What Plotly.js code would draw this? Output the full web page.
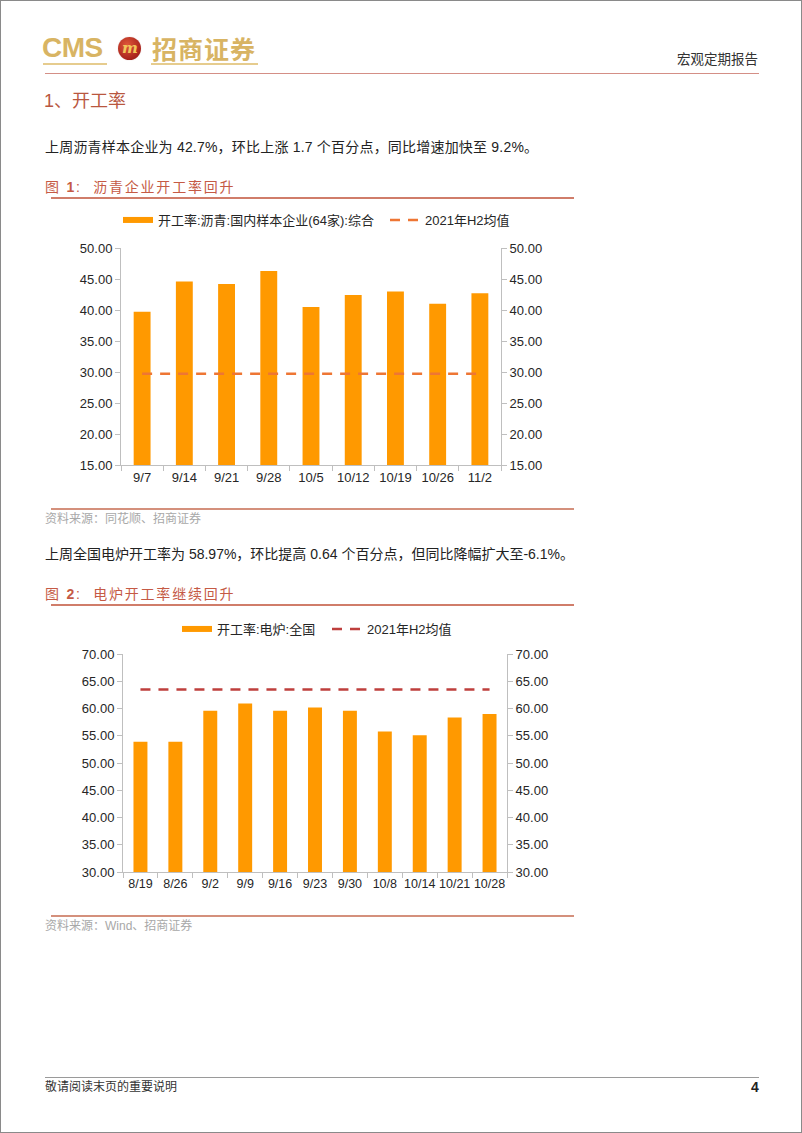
<!DOCTYPE html>
<html>
<head>
<meta charset="utf-8">
<script src="https://cdn.plot.ly/plotly-3.0.1.min.js"></script>
<style>
  html, body { margin:0; padding:0; background:#fff; }
  #page { position:relative; width:802px; height:1133px; box-sizing:border-box; border:1px solid #8a8a8a; overflow:hidden;
          font-family:"Liberation Sans", Arial, "Noto Sans CJK SC", sans-serif; color:#222; }
  .abs { position:absolute; white-space:nowrap; }
  .rule { position:absolute; }
  .chart { position:absolute; }
</style>
</head>
<body>
<div id="page">
  <!-- header -->
  <div class="abs" style="left:41px; top:30px; font-size:28px; line-height:34px; font-weight:bold; color:#D8B463; letter-spacing:-0.5px;">CMS</div>
  <div class="abs" style="left:117px; top:36px; width:23px; height:23px; border-radius:50%; background:radial-gradient(circle at 40% 35%, #E0583A, #A8231C 70%, #7A1510); box-shadow:0 0 1px #caa;"></div>
  <div class="abs" style="left:119px; top:35px; width:20px; font-size:15px; line-height:24px; font-weight:bold; font-style:italic; color:#F2C65A; text-align:center; font-family:'DejaVu Serif', serif;">m</div>
  <div class="abs" style="left:151px; top:31px; font-size:25px; line-height:32px; font-weight:bold; color:#D8B463; font-family:'Noto Sans CJK SC', sans-serif; letter-spacing:1px;">招商证券</div>
  <div class="rule" style="left:42px; top:62px; width:64px; height:2px; background:#E6CC8E;"></div>
  <div class="rule" style="left:150px; top:62px; width:107px; height:2px; background:#E6CC8E;"></div>
  <div class="abs" style="left:676px; top:48px; font-size:13.5px; line-height:18px; color:#333; font-family:'Noto Sans CJK SC', sans-serif;">宏观定期报告</div>
  <div class="rule" style="left:44px; top:72px; width:714px; height:1px; background:#D48F86;"></div>

  <div class="abs" style="left:43px; top:88px; font-size:18px; line-height:24px; color:#B9573F;">1、开工率</div>

  <div class="abs" style="left:44px; top:137px; font-size:14px; line-height:18px; color:#222; letter-spacing:0.2px;">上周沥青样本企业为 42.7%，环比上涨 1.7 个百分点，同比增速加快至 9.2%。</div>

  <div class="abs" style="left:44px; top:177px; font-size:14px; line-height:18px; color:#C55A45; letter-spacing:1.8px;">图 <b>1</b>:&nbsp;&nbsp;沥青企业开工率回升</div>
  <div class="rule" style="left:50px; top:196px; width:523px; height:1.5px; background:#D07D6A;"></div>

  <div id="chart1" class="chart" style="left:0px; top:200px; width:600px; height:300px;"></div>

  <div class="rule" style="left:50px; top:507px; width:523px; height:2px; background:#D4907C;"></div>
  <div class="abs" style="left:44px; top:510px; font-size:12px; line-height:16px; color:#A8A8A8;">资料来源：同花顺、招商证券</div>

  <div class="abs" style="left:44px; top:544px; font-size:14px; line-height:18px; color:#222;">上周全国电炉开工率为 58.97%，环比提高 0.64 个百分点，但同比降幅扩大至-6.1%。</div>

  <div class="abs" style="left:44px; top:584px; font-size:14px; line-height:18px; color:#C55A45; letter-spacing:1.8px;">图 <b>2</b>:&nbsp;&nbsp;电炉开工率继续回升</div>
  <div class="rule" style="left:50px; top:603px; width:523px; height:1.5px; background:#D07D6A;"></div>

  <div id="chart2" class="chart" style="left:0px; top:600px; width:600px; height:310px;"></div>

  <div class="rule" style="left:50px; top:914px; width:523px; height:2px; background:#D4907C;"></div>
  <div class="abs" style="left:44px; top:917px; font-size:12px; line-height:16px; color:#A8A8A8;">资料来源：Wind、招商证券</div>

  <!-- footer -->
  <div class="rule" style="left:44px; top:1076px; width:714px; height:1px; background:#9a9a9a;"></div>
  <div class="abs" style="left:44px; top:1078px; font-size:12px; line-height:16px; color:#333;">敬请阅读末页的重要说明</div>
  <div class="abs" style="left:750px; top:1077px; font-size:14px; line-height:18px; font-weight:bold; color:#222;">4</div>
</div>

<script>
// ---------- data: chart 1 ----------
const cats1 = ['9/7','9/14','9/21','9/28','10/5','10/12','10/19','10/26','11/2'];
const asphaltRate = [39.7, 44.6, 44.2, 46.3, 40.5, 42.4, 43.0, 41.0, 42.7];
const asphaltAvgH2 = [29.7, 29.7, 29.7, 29.7, 29.7, 29.7, 29.7, 29.7, 29.7];
const name1a = '开工率:沥青:国内样本企业(64家):综合';
const name1b = '2021年H2均值';
const ticks1 = [15, 20, 25, 30, 35, 40, 45, 50];

// ---------- data: chart 2 ----------
const cats2 = ['8/19','8/26','9/2','9/9','9/16','9/23','9/30','10/8','10/14','10/21','10/28'];
const eafRate = [53.9, 53.9, 59.6, 60.9, 59.6, 60.2, 59.6, 55.8, 55.1, 58.33, 58.97];
const eafAvgH2 = [63.5, 63.5, 63.5, 63.5, 63.5, 63.5, 63.5, 63.5, 63.5, 63.5, 63.5];
const name2a = '开工率:电炉:全国';
const name2b = '2021年H2均值';
const ticks2 = [30, 35, 40, 45, 50, 55, 60, 65, 70];

const FONT = 'Liberation Sans, Arial, Noto Sans CJK SC, sans-serif';
const BAR = '#FF9900';
const AXC = '#BFBFBF';
const TXT = '#262626';

function yAxis(range, ticks, side) {
  const a = {
    range: range, tickvals: ticks, tickformat: '.2f',
    showline: true, linecolor: AXC, linewidth: 1,
    ticks: 'outside', ticklen: 5, tickcolor: AXC, tickwidth: 1,
    showgrid: false, zeroline: false, fixedrange: true,
    tickfont: {family: FONT, size: 13, color: TXT}
  };
  if (side === 'right') { a.side = 'right'; a.overlaying = 'y'; a.anchor = 'x'; }
  return a;
}

function makeChart(id, cats, vals, avg, nA, nB, range, ticks, dashColor, m, legY, legX1, legX2, xFont) {
  const traces = [
    {type: 'bar', x: cats, y: vals, name: nA, marker: {color: BAR}, width: 0.4,
     showlegend: false, legendgroup: 'a', hoverinfo: 'skip'},
    {type: 'scatter', mode: 'lines', x: [null], y: [null], name: nA, legendgroup: 'a',
     line: {color: BAR, width: 6}, showlegend: true, legend: 'legend'},
    {type: 'scatter', mode: 'lines', x: cats, y: avg, name: nB, yaxis: 'y2',
     line: {color: dashColor, width: 2.5, dash: '10px,8px'}, showlegend: true, legend: 'legend2'}
  ];
  const legBase = {orientation: 'h', xref: 'container', yref: 'container', yanchor: 'middle', xanchor: 'left',
                   y: legY, bgcolor: 'rgba(0,0,0,0)', borderwidth: 0,
                   font: {family: FONT, size: 13, color: TXT}};
  const layout = {
    width: 600, height: m.h,
    margin: {l: m.l, r: m.r, t: m.t, b: m.b, pad: 0},
    paper_bgcolor: 'rgba(0,0,0,0)', plot_bgcolor: 'rgba(0,0,0,0)',
    font: {family: FONT, size: 13, color: TXT},
    bargap: 0.6,
    xaxis: {type: 'category', showline: true, linecolor: AXC, linewidth: 1,
            ticks: 'outside', ticklen: 5, tickcolor: AXC, tickson: 'boundaries',
            tickangle: 0, automargin: false,
            showgrid: false, zeroline: false, fixedrange: true,
            tickfont: {family: FONT, size: xFont, color: TXT}},
    yaxis: yAxis(range, ticks, 'left'),
    yaxis2: yAxis(range, ticks, 'right'),
    legend: Object.assign({}, legBase, {x: legX1}),
    legend2: Object.assign({}, legBase, {x: legX2})
  };
  Plotly.newPlot(id, traces, layout, {staticPlot: true, displayModeBar: false});
}

makeChart('chart1', cats1, asphaltRate, asphaltAvgH2, name1a, name1b, [15, 50], ticks1, '#EE7634',
          {h: 300, l: 120, r: 100, t: 47, b: 36}, 1 - 19/300, 117/600, 384/600, 13);
makeChart('chart2', cats2, eafRate, eafAvgH2, name2a, name2b, [30, 70], ticks2, '#BE3F3D',
          {h: 310, l: 122, r: 94, t: 53, b: 39}, 1 - 28/310, 176/600, 326/600, 12.5);
</script>
</body>
</html>
